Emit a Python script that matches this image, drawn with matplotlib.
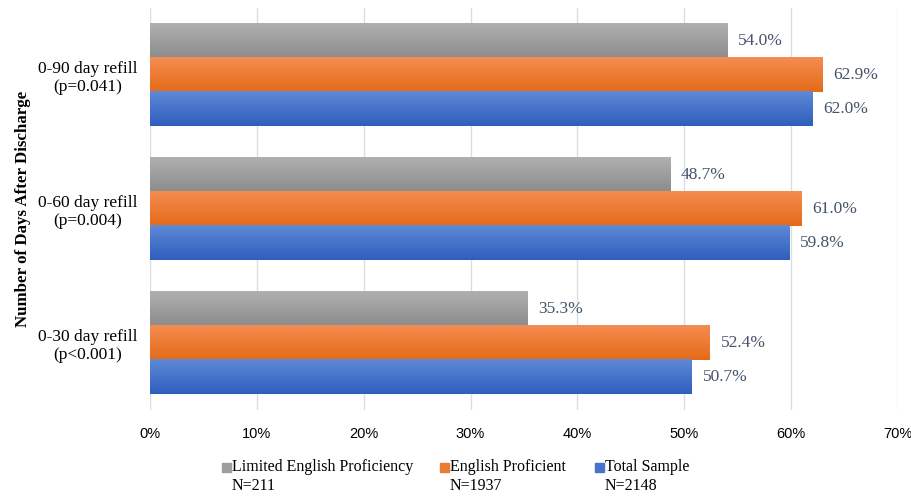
import numpy as np
import matplotlib.pyplot as plt
import matplotlib.colors as mcolors
from matplotlib.patches import Rectangle

categories = ["0-30 day refill\n(p<0.001)", "0-60 day refill\n(p=0.004)", "0-90 day refill\n(p=0.041)"]
series_names = ["Limited English Proficiency\nN=211", "English Proficient\nN=1937", "Total Sample\nN=2148"]
lep = [35.3, 48.7, 54.0]
ep = [52.4, 61.0, 62.9]
total = [50.7, 59.8, 62.0]
xticks = [0, 10, 20, 30, 40, 50, 60, 70]

# (top colour, bottom colour) for the gradient fill
grads = [("#b0b0b0", "#8c8c8c"), ("#f48d52", "#e56a18"), ("#5e89d6", "#2f5fbe")]

serif = "Liberation Serif"
W, H = 912, 496
fig = plt.figure(figsize=(W / 100, H / 100), dpi=100)
ax = fig.add_axes([150 / W, 86 / H, 748 / W, 402 / H])

h = 0.254
y = np.arange(len(categories))
offsets = [h, 0, -h]
allvals = [lep, ep, total]

for k, vals in enumerate(allvals):
    bars = ax.barh(y + offsets[k], vals, height=h, color=grads[k][1], label=series_names[k], zorder=2)
    cmap = mcolors.LinearSegmentedColormap.from_list("g%d" % k, [grads[k][0], grads[k][1]])
    for b, v in zip(bars, vals):
        x0, y0 = b.get_x(), b.get_y()
        w, hh = b.get_width(), b.get_height()
        grad = np.linspace(0, 1, 64).reshape(-1, 1)
        ax.imshow(grad, cmap=cmap, aspect="auto", extent=[x0, x0 + w, y0, y0 + hh],
                  origin="upper", zorder=3, interpolation="bilinear")
        ax.text(v + 1.0, y0 + hh / 2, "%.1f%%" % v, va="center", ha="left",
                fontsize=12.5, family=serif, color="#44546a", zorder=4)

ax.set_xlim(0, 70)
ax.set_ylim(-0.5, 2.5)
ax.set_xticks(xticks)
ax.set_xticklabels(["%d%%" % t for t in xticks], family="Liberation Sans", fontsize=10.5)
ax.set_yticks(y)
ax.set_yticklabels(categories, family=serif, fontsize=12.5)
for lab in ax.get_yticklabels():
    lab.set_multialignment("center")
ax.grid(axis="x", color="#d9dde5", linewidth=1, zorder=0)
ax.set_axisbelow(True)
for s in ax.spines.values():
    s.set_visible(False)
ax.tick_params(axis="both", length=0)
ax.tick_params(axis="x", pad=12)
ax.tick_params(axis="y", pad=9)
ax.set_ylabel("Number of Days After Discharge", family=serif, fontsize=12.2, fontweight="bold", labelpad=5)

# legend drawn by hand: square next to first line of a two-line label
leg_x = [222, 440, 595]
for k, name in enumerate(series_names):
    col = mcolors.to_hex(np.mean([mcolors.to_rgb(grads[k][0]), mcolors.to_rgb(grads[k][1])], axis=0))
    fig.add_artist(Rectangle((leg_x[k] / W, (H - 472) / H), 9 / W, 9 / H,
                             transform=fig.transFigure, color=col))
    fig.text((leg_x[k] + 10) / W, (H - 459) / H, name, family=serif, fontsize=11.5,
             va="top", ha="left", linespacing=1.25)

fig.savefig("out.png", dpi=100)
